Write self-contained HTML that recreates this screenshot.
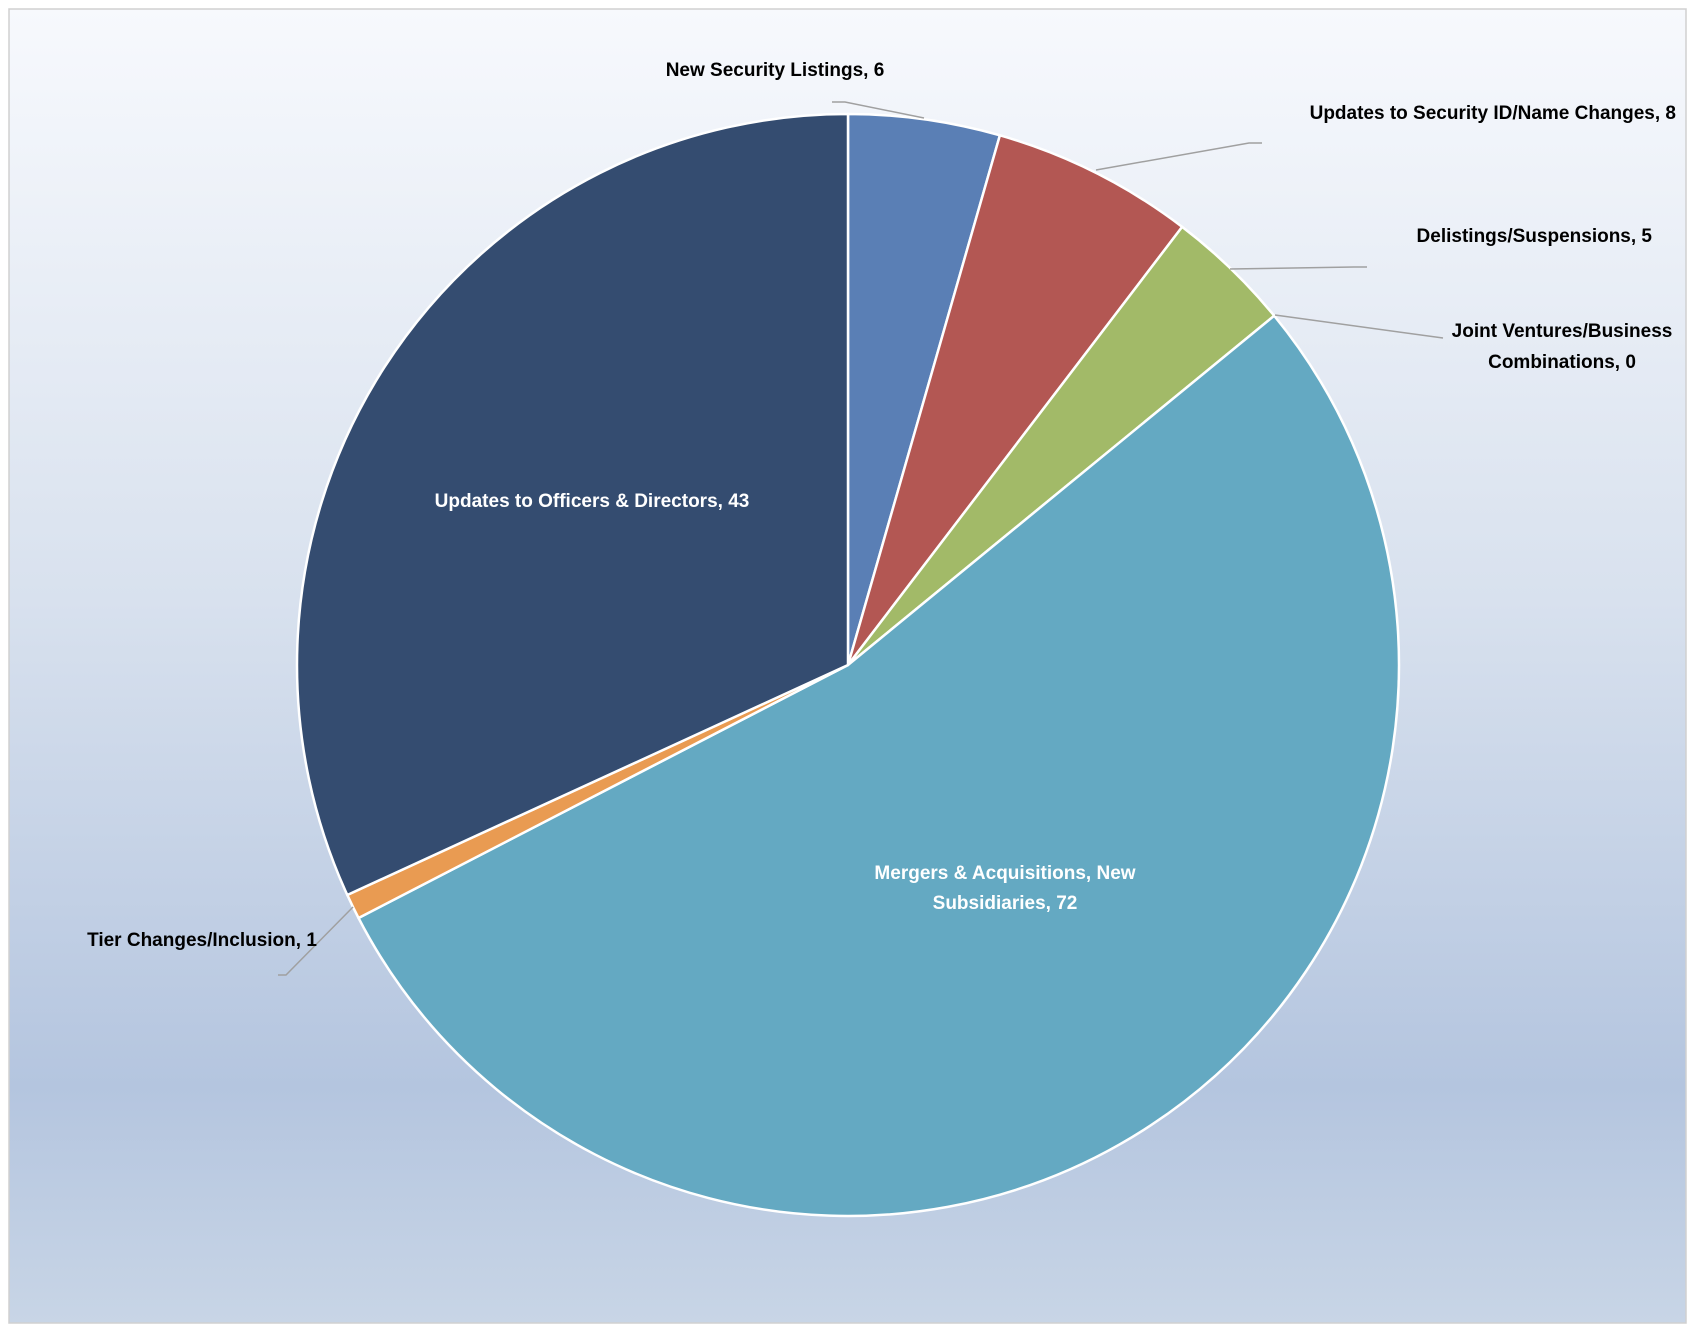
<!DOCTYPE html>
<html><head><meta charset="utf-8"><style>
html,body{margin:0;padding:0;background:#fff}
svg{display:block}
text{font-family:"Liberation Sans",sans-serif;font-weight:bold;font-size:19px}
</style></head><body>
<svg width="1688" height="1324" viewBox="0 0 1688 1324">
<defs><linearGradient id="bg" x1="0" y1="0" x2="0" y2="1">
<stop offset="0" stop-color="#f7f9fd"/><stop offset="0.45" stop-color="#d8e1ee"/>
<stop offset="0.82" stop-color="#b4c5df"/><stop offset="1" stop-color="#c8d5e6"/></linearGradient></defs>
<rect x="9" y="9" width="1677" height="1314" fill="url(#bg)" stroke="#d0d0d0" stroke-width="1.5"/>
<g id="slices"></g>
<g id="leaders" stroke="#a0a0a0" stroke-width="1.5" fill="none">
<polyline points="832,102 845,102 924,118"/>
<polyline points="1262,143 1249,143 1096,170"/>
<polyline points="1367,267 1354,267 1230,269"/>
<polyline points="1443,338 1275,315"/>
<polyline points="278,975 286,975 353,907"/>
</g>
<g fill="#000">
<text x="775" y="76" text-anchor="middle">New Security Listings, 6</text>
<text x="1676" y="119" text-anchor="end">Updates to Security ID/Name Changes, 8</text>
<text x="1652" y="242" text-anchor="end">Delistings/Suspensions, 5</text>
<text x="1562" y="337" text-anchor="middle">Joint Ventures/Business</text>
<text x="1562" y="368" text-anchor="middle">Combinations, 0</text>
<text x="202" y="946" text-anchor="middle">Tier Changes/Inclusion, 1</text>
</g>
<g fill="#fff">
<text x="592" y="507" text-anchor="middle">Updates to Officers &amp; Directors, 43</text>
<text x="1005" y="879" text-anchor="middle">Mergers &amp; Acquisitions, New</text>
<text x="1005" y="909" text-anchor="middle">Subsidiaries, 72</text>
</g>
</svg>
<script>
const categories = ["New Security Listings","Updates to Security ID/Name Changes","Delistings/Suspensions","Joint Ventures/Business Combinations","Mergers & Acquisitions, New Subsidiaries","Tier Changes/Inclusion","Updates to Officers & Directors"];
const values = [6, 8, 5, 0, 72, 1, 43];
const colors = ["#5a7fb5","#b35753","#a2ba68","#7f63a0","#64a9c2","#e99b52","#344c70"];
const cx = 848, cy = 665, r = 551;
const total = values.reduce((a,b)=>a+b,0);
const g = document.getElementById('slices');
let a0 = 0;
function pt(a){return [cx + r*Math.sin(a), cy - r*Math.cos(a)];}
values.forEach((v,i)=>{
  const a1 = a0 + v/total*2*Math.PI;
  if (v > 0) {
    const p0 = pt(a0), p1 = pt(a1);
    const large = (a1-a0) > Math.PI ? 1 : 0;
    const p = document.createElementNS('http://www.w3.org/2000/svg','path');
    p.setAttribute('d', `M${cx},${cy} L${p0[0]},${p0[1]} A${r},${r} 0 ${large} 1 ${p1[0]},${p1[1]} Z`);
    p.setAttribute('fill', colors[i]);
    p.setAttribute('stroke', '#fff');
    p.setAttribute('stroke-width', '2.5');
    p.setAttribute('stroke-linejoin', 'round');
    
    
    g.appendChild(p);
  }
  a0 = a1;
});
</script>
</body></html>
